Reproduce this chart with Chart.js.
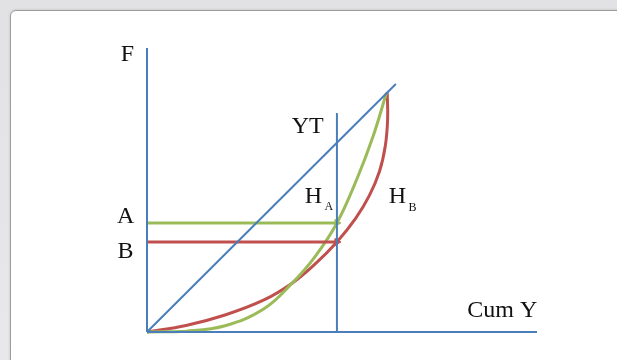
<!DOCTYPE html>
<html>
<head>
<meta charset="utf-8">
<script src="https://cdn.jsdelivr.net/npm/chart.js@4/dist/chart.umd.min.js"></script>
<style>
  html, body { margin: 0; padding: 0; }
  body {
    width: 617px; height: 360px; overflow: hidden; position: relative;
    background: linear-gradient(#e2e2e4, #e8e8ea);
  }
  .card {
    position: absolute; left: 10px; top: 10px; width: 700px; height: 420px;
    background: #fff; border: 1px solid #9c9c9c; border-radius: 6px;
    box-shadow: 0 0 3px rgba(0,0,0,0.15);
  }
  canvas { position: absolute; left: 0; top: 0; }
</style>
</head>
<body>
<div class="card"></div>
<canvas id="chart" width="617" height="360"></canvas>
<script>
// all values in axis units: x 0..100 along Cum Y, y 0..100 along F
const yAxisLine = [{x: 0, y: 0}, {x: 0, y: 100}];
const xAxisLine = [{x: 0, y: 0}, {x: 100, y: 0}];
const diagonal = [{x: 0, y: 0}, {x: 63.8, y: 87.3}];
const ytLine = [{x: 48.7, y: 0}, {x: 48.7, y: 77.1}];
const levelA = [{x: 0, y: 38.4}, {x: 48.7, y: 38.4}];
const levelB = [{x: 0, y: 31.7}, {x: 48.7, y: 31.7}];

// H_A (green)
const curveA = [
  {x: 0, y: 0}, {x: 10, y: 0.3}, {x: 20, y: 2.2}, {x: 30, y: 8.2},
  {x: 37.2, y: 17.2}, {x: 43, y: 26.4}, {x: 48.7, y: 38.4},
  {x: 54, y: 54.5}, {x: 58, y: 69.0}, {x: 61.4, y: 84.2}
];
// H_B (red)
const curveB = [
  {x: 0, y: 0}, {x: 10, y: 2.3}, {x: 20, y: 6.0}, {x: 30, y: 11.3},
  {x: 37.2, y: 17.2}, {x: 43, y: 23.8}, {x: 48.7, y: 31.7},
  {x: 53.5, y: 40.0}, {x: 57, y: 48.0}, {x: 59.6, y: 56.5},
  {x: 61.1, y: 65.5}, {x: 61.7, y: 75.0}, {x: 61.6, y: 84.3}
];

const labelTexts = ["F", "YT", "H", "A", "H", "B", "A", "B", "Cum Y"];
const labelX = [-5.0, 41.2, 42.7, 46.6, 64.2, 68.1, -5.5, -5.5, 91.1];
const labelY = [95.4, 70.1, 45.4, 43.0, 45.4, 42.6, 38.4, 26.1, 5.3];
const labelSub = [false, false, false, true, false, true, false, false, false];

const BLUE = "#4A7EBB";
const RED = "#C0504D";
const GREEN = "#9BBB59";

const textLabels = {
  id: "textLabels",
  afterDatasetsDraw(chart) {
    const ctx = chart.ctx;
    const sx = chart.scales.x, sy = chart.scales.y;
    ctx.save();
    ctx.fillStyle = "#111";
    ctx.textAlign = "center";
    ctx.textBaseline = "alphabetic";
    labelTexts.forEach((t, i) => {
      ctx.font = (labelSub[i] ? "12px" : "24px") + " 'Liberation Serif', serif";
      ctx.fillText(t, sx.getPixelForValue(labelX[i]), sy.getPixelForValue(labelY[i]));
    });
    ctx.restore();
  }
};

function line(data, color, width, extra) {
  return Object.assign({
    data: data,
    showLine: true,
    borderColor: color,
    backgroundColor: color,
    borderWidth: width,
    pointRadius: 0,
    fill: false,
    clip: false,
  }, extra || {});
}

const arrowHead = {
  pointRadius: [0, 4],
  pointStyle: "triangle",
  pointRotation: 90,
  pointBorderWidth: 1,
};

new Chart(document.getElementById("chart"), {
  type: "scatter",
  data: {
    datasets: [
      line(yAxisLine, BLUE, 2),
      line(xAxisLine, BLUE, 2),
      line(diagonal, BLUE, 2),
      line(ytLine, BLUE, 2),
      line(levelA, GREEN, 3, arrowHead),
      line(levelB, RED, 3, arrowHead),
      line(curveA, GREEN, 3, {tension: 0.4}),
      line(curveB, RED, 3, {tension: 0.4}),
    ]
  },
  options: {
    responsive: false,
    animation: false,
    layout: {padding: {left: 147, right: 80, top: 48, bottom: 28}},
    scales: {
      x: {type: "linear", min: 0, max: 100, display: false},
      y: {type: "linear", min: 0, max: 100, display: false},
    },
    plugins: {
      legend: {display: false},
      tooltip: {enabled: false},
    },
  },
  plugins: [textLabels],
});
</script>
</body>
</html>
